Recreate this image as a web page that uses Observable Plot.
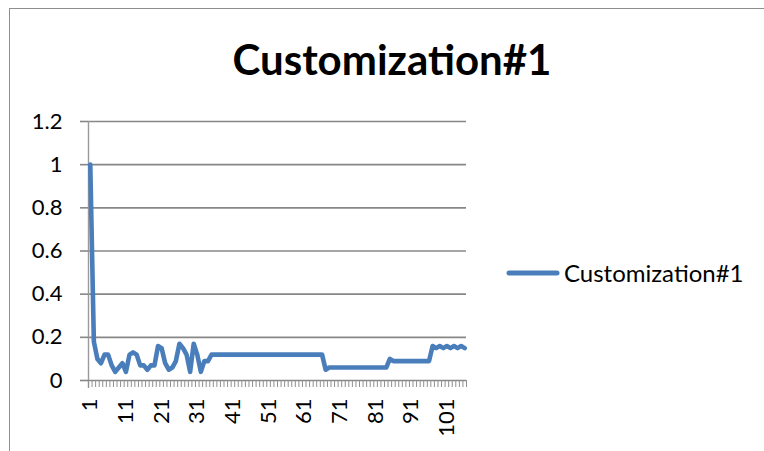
<!DOCTYPE html>
<html>
<head>
<meta charset="utf-8">
<script src="https://cdn.jsdelivr.net/npm/d3@7"></script>
<script src="https://cdn.jsdelivr.net/npm/@observablehq/plot@0.6"></script>
<style>
  html, body { margin: 0; padding: 0; background: #fff; }
  #wrap { position: relative; width: 764px; height: 451px; overflow: hidden; background: #fff; font-family: Lato, "Open Sans", sans-serif; }
  #frame { position: absolute; left: 9px; top: 8px; width: 900px; height: 600px; border-left: 1.5px solid #8e8e8e; border-top: 1.5px solid #8e8e8e; }
  #chart { position: absolute; left: 0; top: 0; }
  #deco { position: absolute; left: 0; top: 0; pointer-events: none; }
</style>
</head>
<body>
<div id="wrap">
  <div id="frame"></div>
  <div id="chart"></div>
  <svg id="deco" width="764" height="451"></svg>
</div>
<script>
// ---- data ----
const seriesName = "Customization#1";
const titleText = "Customization#1";
const categories = d3.range(1, 107); // category index 1..106
const values = [
  1.00, 0.18, 0.10, 0.08, 0.12, 0.12, 0.07, 0.04, 0.06, 0.08,
  0.04, 0.12, 0.13, 0.12, 0.07, 0.07, 0.05, 0.07, 0.07, 0.16,
  0.15, 0.08, 0.05, 0.06, 0.09, 0.17, 0.15, 0.12, 0.04, 0.17,
  0.12, 0.04, 0.09, 0.09, 0.12, 0.12, 0.12, 0.12, 0.12, 0.12,
  0.12, 0.12, 0.12, 0.12, 0.12, 0.12, 0.12, 0.12, 0.12, 0.12,
  0.12, 0.12, 0.12, 0.12, 0.12, 0.12, 0.12, 0.12, 0.12, 0.12,
  0.12, 0.12, 0.12, 0.12, 0.12, 0.12, 0.05, 0.06, 0.06, 0.06,
  0.06, 0.06, 0.06, 0.06, 0.06, 0.06, 0.06, 0.06, 0.06, 0.06,
  0.06, 0.06, 0.06, 0.06, 0.10, 0.09, 0.09, 0.09, 0.09, 0.09,
  0.09, 0.09, 0.09, 0.09, 0.09, 0.09, 0.16, 0.15, 0.16, 0.15,
  0.16, 0.15, 0.16, 0.15, 0.16, 0.15
];
const xTickLabels = [1, 11, 21, 31, 41, 51, 61, 71, 81, 91, 101];
const yTicks = [0, 0.2, 0.4, 0.6, 0.8, 1, 1.2];

// ---- build ----
const data = categories.map((c, i) => ({ cat: c, value: values[i] }));
const boundaries = [categories[0] - 0.5, ...categories.map(c => c + 0.5)];
const blue = "#4A7EBB";
const gray = "#878787";

const chart = Plot.plot({
  width: 764,
  height: 451,
  marginLeft: 88,
  marginRight: 298,
  marginTop: 121,
  marginBottom: 71,
  x: { type: "linear", domain: [boundaries[0], boundaries[boundaries.length - 1]] },
  y: { domain: [0, 1.2] },
  style: { fontFamily: "Lato, 'Open Sans', sans-serif", fontSize: "22px", color: "#000", background: "transparent", overflow: "visible" },
  marks: [
    Plot.gridY(yTicks, { stroke: gray, strokeOpacity: 1, strokeWidth: 1.6 }),
    Plot.ruleX([boundaries[0]], { stroke: "#9a9a9a", strokeWidth: 1.4, insetBottom: -8 }),
    Plot.axisX(boundaries, { tickSize: 7, tickFormat: () => "", stroke: "#8f8f8f", strokeWidth: 1, label: null }),
    Plot.axisX(xTickLabels, { tickSize: 0, tickPadding: 18, tickRotate: -90, tickFormat: d => String(d), fontSize: 22, fill: "#000", label: null }),
    Plot.axisY(yTicks, { tickSize: 8, tickPadding: 18, stroke: gray, strokeWidth: 1.6, tickFormat: d => String(d), fontSize: 22, fill: "#000", label: null }),
    Plot.line(data, { x: "cat", y: "value", stroke: blue, strokeWidth: 4.6, strokeLinejoin: "round", strokeLinecap: "round" })
  ]
});
document.getElementById("chart").appendChild(chart);

// ---- title and legend ----
const deco = d3.select("#deco");
deco.append("text")
  .attr("x", 392).attr("y", 75)
  .attr("text-anchor", "middle")
  .attr("font-family", "Lato, 'Open Sans', sans-serif")
  .attr("font-weight", "bold")
  .attr("font-size", 42)
  .attr("fill", "#000")
  .text(titleText);
const lg = deco.append("g");
lg.append("line")
  .attr("x1", 509).attr("x2", 557).attr("y1", 273).attr("y2", 273)
  .attr("stroke", blue).attr("stroke-width", 5).attr("stroke-linecap", "round");
lg.append("text")
  .attr("x", 564).attr("y", 282)
  .attr("font-family", "Lato, 'Open Sans', sans-serif")
  .attr("font-size", 24)
  .attr("fill", "#000")
  .text(seriesName);
</script>
</body>
</html>
